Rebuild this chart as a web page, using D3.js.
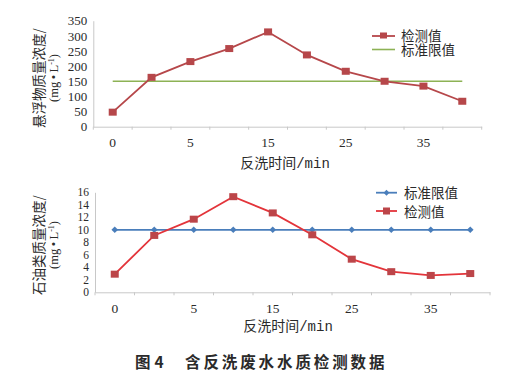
<!DOCTYPE html>
<html><head><meta charset="utf-8">
<script src="https://cdn.jsdelivr.net/npm/d3@7"></script>
<style>
html,body{margin:0;padding:0;background:#fff;}
svg{display:block;}
text{font-family:"Liberation Serif","Noto Sans CJK SC",serif;fill:#2a2a2a;}
.cjk{font-family:"Noto Sans CJK SC",sans-serif;}
</style></head>
<body>
<script>
const tickLabels = ["0","","5","","15","","25","","35",""];
const ssMeasured = [48,163,215,258,313,237,183,150,134,84];
const ssLimit = [150,150,150,150,150,150,150,150,150,150];
const ssTicks = [0,50,100,150,200,250,300,350];
const oilLimit = [10,10,10,10,10,10,10,10,10,10];
const oilMeasured = [2.9,9.1,11.7,15.3,12.7,9.2,5.3,3.3,2.7,3.0];
const oilTicks = [0,2,4,6,8,10,12,14,16];

const W=513,H=380;
const svg=d3.select("body").append("svg").attr("width",W).attr("height",H);

function panel(o){
  const idx=d3.range(o.n);
  const x=d3.scaleBand().domain(idx).range([o.x0,o.x1]);
  const y=d3.scaleLinear().domain(o.ydom).range([o.y0,o.y1]);
  const g=svg.append("g");
  const xa=g.append("g").attr("transform",`translate(0,${o.y0})`)
    .call(d3.axisBottom(x).tickSize(0).tickFormat(i=>tickLabels[i]));
  xa.select(".domain").attr("stroke","#c8c8c8");
  xa.selectAll("text").attr("font-size",13.5).attr("dy","1.3em").attr("fill","#2a2a2a");
  const bnd=d3.range(o.n+1).map(i=>o.x0+i*x.step());
  g.selectAll(".bt").data(bnd).join("line").attr("x1",d=>d).attr("x2",d=>d)
    .attr("y1",o.y0).attr("y2",o.y0+3).attr("stroke","#c8c8c8");
  const ya=g.append("g").attr("transform",`translate(${o.x0},0)`)
    .call(d3.axisLeft(y).tickValues(o.yticks).tickSize(0).tickPadding(6));
  ya.select(".domain").attr("stroke","#c8c8c8");
  ya.selectAll("text").attr("font-size",o.yfs).attr("fill","#2a2a2a");
  const yt=g.append("text").attr("class","cjk").attr("transform",`translate(${o.ytx},${o.yty}) rotate(-90)`)
    .attr("text-anchor","middle").attr("font-size",13.5);
  yt.append("tspan").attr("x",0).attr("dy",0).text(o.ytitle);
  yt.append("tspan").attr("x",0).attr("dy",13.5).attr("font-family","Liberation Serif").attr("font-size",12.5)
    .html("(mg\u2009\u2022\u2009L<tspan baseline-shift='super' font-size='8'>-1</tspan>)");
  g.append("text").attr("x",o.xtx).attr("y",o.xty).attr("text-anchor","middle").attr("font-size",14)
    .html("<tspan font-family='Noto Sans CJK SC'>反洗时间</tspan><tspan font-family='Liberation Mono'>/min</tspan>");
  return {x,y,g};
}

// ---------- top panel ----------
const p1=panel({n:10,x0:93.3,x1:481.7,y0:126.7,y1:20.7,ydom:[0,350],yticks:ssTicks,yfs:13,
  ytitle:"悬浮物质量浓度/",ytx:44,yty:78,xtx:285,xty:168});
const cx1=i=>p1.x(i)+p1.x.bandwidth()/2;
const line1=d3.line().x((d,i)=>cx1(i)).y(d=>p1.y(d));
p1.g.append("path").datum(ssLimit).attr("d",line1).attr("fill","none").attr("stroke","#8DB255").attr("stroke-width",1.6);
p1.g.append("path").datum(ssMeasured).attr("d",line1).attr("fill","none").attr("stroke","#B6474A").attr("stroke-width",1.8);
p1.g.selectAll(".m1").data(ssMeasured).join("rect").attr("x",(d,i)=>cx1(i)-4).attr("y",d=>p1.y(d)-3.5)
  .attr("width",8).attr("height",7).attr("fill","#B6474A");
const lg1=svg.append("g");
lg1.append("line").attr("x1",372).attr("x2",395).attr("y1",36).attr("y2",36).attr("stroke","#B6474A").attr("stroke-width",1.8);
lg1.append("rect").attr("x",380).attr("y",32.5).attr("width",7).attr("height",6).attr("fill","#B6474A");
lg1.append("text").attr("class","cjk").attr("x",401).attr("y",41).attr("font-size",13.5).text("检测值");
lg1.append("line").attr("x1",372).attr("x2",395).attr("y1",49.5).attr("y2",49.5).attr("stroke","#8DB255").attr("stroke-width",1.6);
lg1.append("text").attr("class","cjk").attr("x",401).attr("y",55).attr("font-size",13.5).text("标准限值");

// ---------- bottom panel ----------
const p2=panel({n:10,x0:95,x1:490,y0:292.3,y1:192.3,ydom:[0,16],yticks:oilTicks,yfs:11.5,
  ytitle:"石油类质量浓度/",ytx:44,yty:245,xtx:288,xty:331});
const cx2=i=>p2.x(i)+p2.x.bandwidth()/2;
const line2=d3.line().x((d,i)=>cx2(i)).y(d=>p2.y(d));
p2.g.append("path").datum(oilLimit).attr("d",line2).attr("fill","none").attr("stroke","#4A7EBB").attr("stroke-width",1.8);
p2.g.selectAll(".d2").data(oilLimit).join("path")
  .attr("d",d3.symbol().type(d3.symbolDiamond2).size(28))
  .attr("transform",(d,i)=>`translate(${cx2(i)},${p2.y(d)})`).attr("fill","#4A7EBB");
p2.g.append("path").datum(oilMeasured).attr("d",line2).attr("fill","none").attr("stroke","#E3343A").attr("stroke-width",1.8);
p2.g.selectAll(".m2").data(oilMeasured).join("rect").attr("x",(d,i)=>cx2(i)-4).attr("y",d=>p2.y(d)-3.5)
  .attr("width",8).attr("height",7).attr("fill","#BC4549");
const lg2=svg.append("g");
lg2.append("line").attr("x1",376).attr("x2",397).attr("y1",192.7).attr("y2",192.7).attr("stroke","#4A7EBB").attr("stroke-width",1.8);
lg2.append("path").attr("d",d3.symbol().type(d3.symbolDiamond2).size(22)).attr("transform","translate(386.5,192.7)").attr("fill","#4A7EBB");
lg2.append("text").attr("class","cjk").attr("x",404).attr("y",198).attr("font-size",13.5).text("标准限值");
lg2.append("line").attr("x1",376).attr("x2",397).attr("y1",211).attr("y2",211).attr("stroke","#E3343A").attr("stroke-width",1.8);
lg2.append("rect").attr("x",383).attr("y",207.5).attr("width",7).attr("height",7).attr("fill","#BC4549");
lg2.append("text").attr("class","cjk").attr("x",404).attr("y",216.5).attr("font-size",13.5).text("检测值");

// caption
const cap=svg.append("text").attr("class","cjk").attr("y",368).attr("font-size",15.5).attr("font-weight","bold").attr("fill","#222");
cap.append("tspan").attr("x",135).attr("letter-spacing",4).text("图4");
cap.append("tspan").attr("x",185).attr("letter-spacing",2.9).text("含反洗废水水质检测数据");
</script>
</body></html>
